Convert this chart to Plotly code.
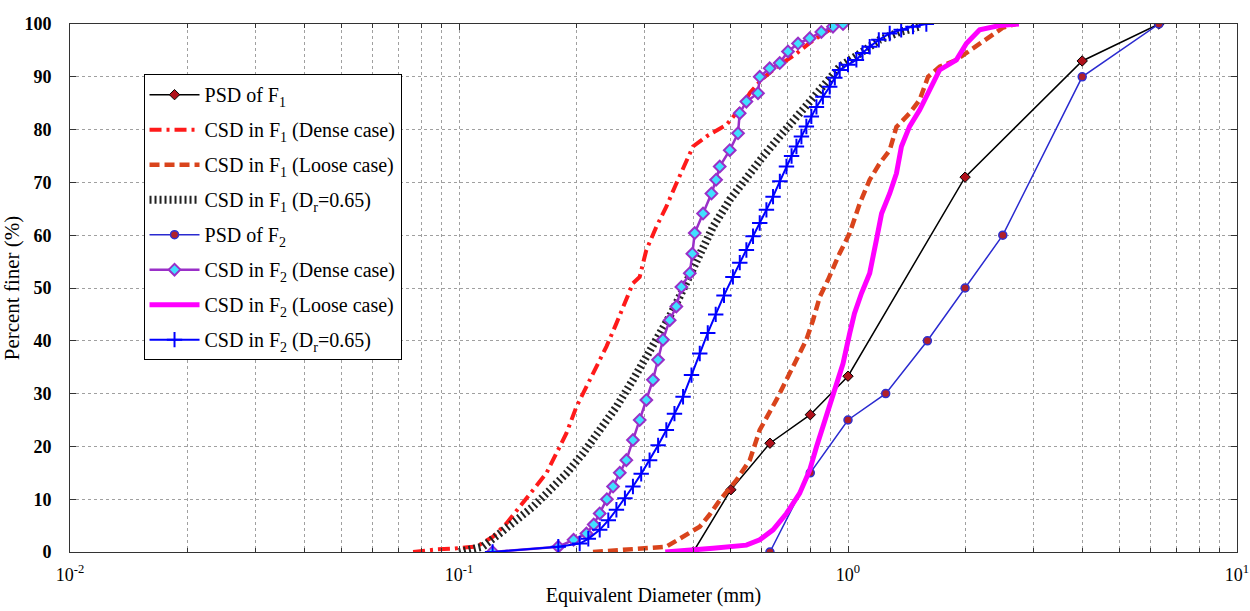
import plotly.graph_objects as go

# ---- Data (diameter in mm, percent finer) ----
psd_f1_d = [0.4, 0.5, 0.63, 0.8, 1.0, 2.0, 4.0, 6.3]
psd_f1_p = [0, 11.8, 20.6, 26.0, 33.3, 71.0, 93.0, 100]

csd_f1_dense_d = [0.0762, 0.082, 0.088, 0.095, 0.1, 0.105, 0.1108, 0.1223, 0.1324, 0.1432, 0.155, 0.1677,
                  0.178, 0.1889, 0.2004, 0.2126, 0.2256, 0.2393, 0.2539, 0.2693, 0.280, 0.2914, 0.3031,
                  0.3216, 0.3412, 0.362, 0.3842, 0.3995, 0.4325, 0.487, 0.532, 0.56, 0.60, 0.66, 0.737,
                  0.80, 0.87, 0.95]
csd_f1_dense_p = [0, 0.3, 0.5, 0.6, 0.8, 0.9, 1.0, 2.9, 5.4, 8.6, 11.7, 14.9,
                  18.7, 22.5, 27.5, 31.3, 35.1, 38.9, 43.3, 47.7, 50.9, 52.1, 57.2,
                  61.6, 65.4, 69.8, 74.2, 76.8, 78.7, 80.9, 84.3, 87.0, 89.5, 92.0, 94.4,
                  96.5, 98.3, 100]

csd_f1_loose_d = [0.221, 0.26, 0.30, 0.341, 0.369, 0.4158, 0.44, 0.468, 0.5165, 0.559, 0.593, 0.629,
                  0.6545, 0.6947, 0.737, 0.7816, 0.813, 0.846, 0.888, 0.952, 1.010, 1.072, 1.137,
                  1.206, 1.28, 1.332, 1.44, 1.528, 1.606, 1.72, 1.90, 2.1, 2.3, 2.5, 2.7]
csd_f1_loose_p = [0, 0.3, 0.6, 1.0, 2.5, 4.8, 7.0, 9.8, 13.6, 17.4, 23.1, 26.3,
                  28.8, 32.6, 36.4, 40.2, 43.9, 48.3, 51.5, 56.6, 60.4, 66.0, 70.5,
                  73.6, 76.1, 80.5, 83.1, 85.6, 90.0, 91.9, 93.2, 95.5, 97.5, 99.3, 100]

csd_f1_dr_d = [0.1, 0.115, 0.1272, 0.1405, 0.155, 0.1711, 0.1889, 0.2084, 0.230, 0.2539, 0.280, 0.3031,
               0.328, 0.348, 0.37, 0.39, 0.4116, 0.4498, 0.4966, 0.548, 0.6047, 0.6676, 0.737, 0.813,
               0.880, 0.952, 1.072, 1.206, 1.358, 1.528]
csd_f1_dr_p = [0, 1.0, 3.5, 6.1, 8.6, 11.7, 14.9, 18.7, 23.1, 27.5, 32.6, 37.0,
               40.8, 44.6, 48.5, 52.0, 55.3, 61.6, 66.7, 71.1, 74.9, 78.7, 82.4, 85.6,
               88.8, 91.9, 94.4, 97.0, 98.5, 99.5]

psd_f2_d = [0.63, 0.8, 1.0, 1.25, 1.6, 2.0, 2.5, 4.0, 6.3]
psd_f2_p = [0, 15, 25, 30, 40, 50, 60, 90, 100]

csd_f2_dense_d = [0.122, 0.18, 0.197, 0.2126, 0.222, 0.230, 0.240, 0.2489, 0.259, 0.2693, 0.280, 0.2914,
                  0.3031, 0.3152, 0.3248, 0.3345, 0.348, 0.362, 0.373, 0.392, 0.398, 0.4036, 0.424,
                  0.4456, 0.458, 0.468, 0.4966, 0.5215, 0.5267, 0.548, 0.587, 0.593, 0.629, 0.6676,
                  0.701, 0.7439, 0.797, 0.854, 0.915, 0.971]
csd_f2_dense_p = [0, 1.0, 2.3, 3.5, 5.2, 7.3, 10.0, 12.4, 15.0, 17.4, 21.2, 25.0,
                  28.8, 32.6, 36.4, 40.2, 43.9, 46.5, 50.2, 52.8, 56.5, 60.4, 64.1,
                  67.9, 70.5, 73.0, 76.1, 79.3, 83.1, 85.3, 86.9, 90.0, 91.6, 92.6,
                  94.8, 96.3, 97.3, 98.5, 99.5, 100]

csd_f2_loose_d = [0.339, 0.40, 0.45, 0.548, 0.593, 0.6417, 0.6947, 0.751, 0.797, 0.8296, 0.8625, 0.8974,
                  0.9336, 0.971, 1.010, 1.039, 1.083, 1.115, 1.137, 1.183, 1.22, 1.28, 1.332, 1.372,
                  1.44, 1.528, 1.622, 1.72, 1.90, 2.015, 2.18, 2.45, 2.75]
csd_f2_loose_p = [0, 0.3, 0.7, 1.3, 2.3, 4.2, 7.3, 11.1, 15.5, 19.9, 23.7, 27.5,
                  31.3, 35.7, 41.4, 45.2, 49.0, 51.5, 52.8, 59.1, 64.1, 67.9, 71.7, 76.8,
                  80.6, 83.7, 87.5, 91.3, 93.2, 96.3, 98.9, 99.7, 100]

csd_f2_dr_d = [0.122, 0.18, 0.2043, 0.215, 0.230, 0.242, 0.2539, 0.267, 0.280, 0.294, 0.309, 0.325,
               0.3412, 0.358, 0.3767, 0.396, 0.4158, 0.436, 0.457, 0.48, 0.506, 0.527, 0.548, 0.57,
               0.593, 0.617, 0.6417, 0.668, 0.6947, 0.716, 0.737, 0.759, 0.7816, 0.805, 0.8296,
               0.862, 0.8974, 0.925, 0.952, 1.0, 1.051, 1.09, 1.137, 1.2, 1.28, 1.37, 1.469, 1.59]
csd_f2_dr_p = [0, 1.0, 1.6, 2.5, 4.2, 6.0, 8.0, 10.2, 12.4, 14.8, 17.4, 20.2,
               23.1, 26.2, 29.4, 33.5, 37.6, 41.5, 45.0, 48.6, 52.1, 54.8, 57.2, 59.8,
               62.3, 64.8, 67.3, 70.2, 73.0, 75.0, 76.8, 78.7, 80.6, 82.5, 84.3,
               86.2, 88.1, 89.8, 91.3, 92.3, 93.2, 94.5, 95.7, 97.0, 98.2, 98.9, 99.5, 100]

x_tick_vals = [0.01, 0.1, 1, 10]
x_tick_text = ["10<sup>-2</sup>", "10<sup>-1</sup>", "10<sup>0</sup>", "10<sup>1</sup>"]
y_tick_vals = [0, 10, 20, 30, 40, 50, 60, 70, 80, 90, 100]
minor_vals = [m * 10 ** e for e in (-2, -1, 0) for m in range(2, 10)]

names = [
    "PSD of F<sub>1</sub>",
    "CSD in F<sub>1</sub> (Dense case)",
    "CSD in F<sub>1</sub> (Loose case)",
    "CSD in F<sub>1</sub> (D<sub>r</sub>=0.65)",
    "PSD of F<sub>2</sub>",
    "CSD in F<sub>2</sub> (Dense case)",
    "CSD in F<sub>2</sub> (Loose case)",
    "CSD in F<sub>2</sub> (D<sub>r</sub>=0.65)",
]

fig = go.Figure()

fig.add_trace(go.Scatter(x=psd_f1_d, y=psd_f1_p, name=names[0], mode="lines+markers", legendgroup="g0",
                         line=dict(color="black", width=1.5),
                         marker=dict(symbol="diamond", size=8, color="#b0101a",
                                     line=dict(color="black", width=1))))
fig.add_trace(go.Scatter(x=csd_f1_dense_d, y=csd_f1_dense_p, name=names[1], mode="lines", legendgroup="g1",
                         line=dict(color="#ff1a1a", width=4, dash="12px,5px,3px,5px")))
fig.add_trace(go.Scatter(x=csd_f1_loose_d, y=csd_f1_loose_p, name=names[2], mode="lines", legendgroup="g2",
                         line=dict(color="#d9441c", width=4.5, dash="10px,5px")))
fig.add_trace(go.Scatter(x=csd_f1_dr_d, y=csd_f1_dr_p, name=names[3], mode="lines", legendgroup="g3",
                         line=dict(color="#222222", width=8, dash="2px,3px")))
fig.add_trace(go.Scatter(x=psd_f2_d, y=psd_f2_p, name=names[4], mode="lines+markers", legendgroup="g4",
                         line=dict(color="#2a2ad0", width=1.5),
                         marker=dict(symbol="circle", size=8, color="#b0202a",
                                     line=dict(color="#3030d0", width=1.5))))
fig.add_trace(go.Scatter(x=csd_f2_dense_d, y=csd_f2_dense_p, name=names[5], mode="lines+markers", legendgroup="g5",
                         line=dict(color="#9a2fc8", width=2.5),
                         marker=dict(symbol="diamond", size=9, color="#40e0ff",
                                     line=dict(color="#9a2fc8", width=2))))
fig.add_trace(go.Scatter(x=csd_f2_loose_d, y=csd_f2_loose_p, name=names[6], mode="lines", legendgroup="g6",
                         line=dict(color="#ff00ff", width=5)))
fig.add_trace(go.Scatter(x=csd_f2_dr_d, y=csd_f2_dr_p, name=names[7], mode="lines+markers", legendgroup="g7",
                         line=dict(color="#0000ff", width=2),
                         marker=dict(symbol="cross-thin", size=11,
                                     line=dict(color="#0000ff", width=2))))

grid_col = "#a0a0a0"
font_serif = "Liberation Serif"

fig.update_layout(
    width=1250, height=611,
    margin=dict(l=70, r=13, t=24, b=59, autoexpand=False),
    paper_bgcolor="white", plot_bgcolor="white",
    font=dict(family=font_serif, color="black"),
    showlegend=True,
    legend=dict(x=0.063, y=0.905, xanchor="left", yanchor="top",
                bgcolor="white", bordercolor="black", borderwidth=1,
                font=dict(family=font_serif, size=20, color="black"),
                tracegroupgap=6, itemwidth=50),
    xaxis=dict(type="log", range=[-2, 1], automargin=False,
               tickmode="array", tickvals=x_tick_vals, ticktext=x_tick_text,
               tickfont=dict(family=font_serif, size=18, color="black"),
               ticklabelstandoff=6,
               ticks="inside", ticklen=6, tickcolor="#333",
               showline=True, linecolor="#333", linewidth=1, mirror="ticks",
               showgrid=True, gridcolor=grid_col, griddash="dot", gridwidth=1,
               minor=dict(tickmode="array", tickvals=minor_vals, ticks="inside", ticklen=4,
                          tickcolor="#333", showgrid=True, gridcolor=grid_col,
                          griddash="dot", gridwidth=1),
               zeroline=False,
               title=dict(text="Equivalent Diameter (mm)", standoff=4,
                          font=dict(family=font_serif, size=20, color="black"))),
    yaxis=dict(range=[0, 100], tickmode="array", tickvals=y_tick_vals, automargin=False,
               tickfont=dict(family=font_serif, size=18, color="black", weight="bold"),
               ticklabelstandoff=14,
               ticks="inside", ticklen=6, tickcolor="#333",
               showline=True, linecolor="#333", linewidth=1, mirror="ticks",
               showgrid=True, gridcolor=grid_col, griddash="dot", gridwidth=1,
               zeroline=False,
               title=dict(text="Percent finer (%)", standoff=0,
                          font=dict(family=font_serif, size=21, color="black"))),
)

fig.write_html("out.html")
